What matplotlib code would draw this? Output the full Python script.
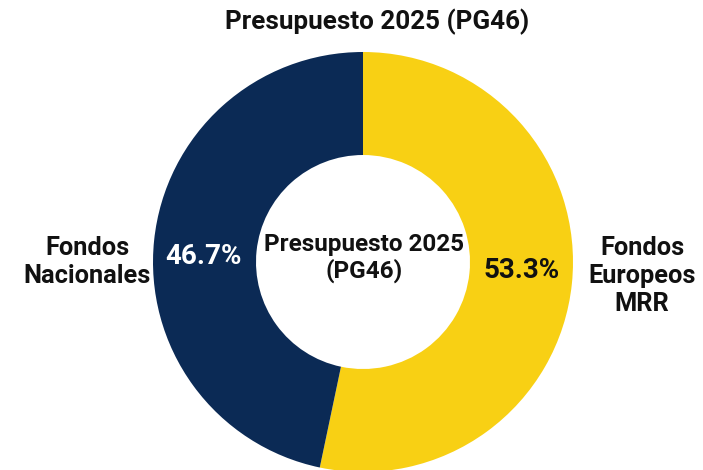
import matplotlib.pyplot as plt

labels = ["Fondos\nEuropeos\nMRR", "Fondos\nNacionales"]
shares = [53.3, 46.7]
colors = ["#F8D014", "#0B2A55"]
pct_colors = ["#111111", "white"]
title = "Presupuesto 2025 (PG46)"
center_text = "Presupuesto 2025\n(PG46)"

plt.rcParams['font.family'] = ['Roboto', 'DejaVu Sans']

fig = plt.figure(figsize=(7.03, 4.70), dpi=100)
ax = fig.add_axes([0, 0, 1, 1])

# pie radius 1 = 210 px, centre at (363, 262) px from top-left
r_px = 210
cx, cy = 363, 262
wedges, _ = ax.pie(shares, colors=colors, startangle=90, counterclock=False,
                   radius=1, wedgeprops=dict(width=1 - 107 / r_px, linewidth=0))
ax.set_xlim(-cx / r_px, (703 - cx) / r_px)
ax.set_ylim(-(470 - cy) / r_px, cy / r_px)
ax.set_aspect('auto')
ax.axis('off')


def px(x, y):
    return (x - cx) / r_px, (cy - y) / r_px


ax.text(*px(377, 22), title, ha='center', va='center', fontsize=18.7, fontweight='bold', color='#111111')
ax.text(*px(364, 258), center_text, ha='center', va='center', fontsize=17.5, fontweight='semibold',
        color='#111111', linespacing=1.1)

# percentages inside the ring
ax.text(*px(522, 271), f"{shares[0]}%", ha='center', va='center', fontsize=20,
        fontweight='bold', color=pct_colors[0])
ax.text(*px(204, 256), f"{shares[1]}%", ha='center', va='center', fontsize=20,
        fontweight='bold', color=pct_colors[1])

# outside labels
ax.text(*px(642, 276), labels[0], ha='center', va='center', fontsize=18.3, fontweight='bold',
        color='#111111', linespacing=1.22)
ax.text(*px(87, 262), labels[1], ha='center', va='center', fontsize=18.3, fontweight='bold',
        color='#111111', linespacing=1.18)

fig.savefig("out.png", dpi=100, facecolor='white')
